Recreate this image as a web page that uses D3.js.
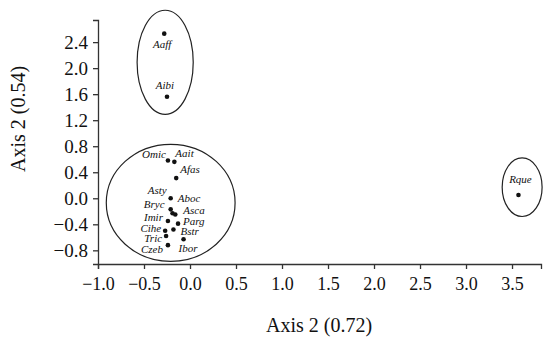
<!DOCTYPE html>
<html>
<head>
<meta charset="utf-8">
<script src="https://cdn.jsdelivr.net/npm/d3@7"></script>
<style>
  body { margin: 0; background: #fff; }
  .axis path, .axis line { stroke: #333; stroke-width: 1.3; }
</style>
</head>
<body>
<div class="chart"></div>
<script>
// species codes and their ordination scores
let species = ["Aaff","Aibi","Omic","Aait","Afas","Asty","Aboc","Bryc","Asca","Imir","Parg","Cihe","Bstr","Tric","Ibor","Czeb","Rque"];
let axis1 = [-0.28,-0.25,-0.24,-0.17,-0.15,-0.21,-0.21,-0.19,-0.16,-0.24,-0.13,-0.27,-0.18,-0.26,-0.07,-0.24,3.57];
let axis2 = [2.53,1.56,0.58,0.56,0.31,0.00,-0.17,-0.23,-0.25,-0.35,-0.39,-0.50,-0.48,-0.58,-0.63,-0.72,0.05];

// group outlines (centre and radii in axis units)
let groupCx = [-0.27, -0.21, 3.61];
let groupCy = [2.09, -0.07, 0.17];
let groupRx = [0.305, 0.70, 0.217];
let groupRy = [0.80, 0.90, 0.45];

let xTicks = [-1.0,-0.5,0.0,0.5,1.0,1.5,2.0,2.5,3.0,3.5];
let yTicks = [-0.8,-0.4,0.0,0.4,0.8,1.2,1.6,2.0,2.4];

// label placement relative to each dot (layout only)
let labelPos = {
  Aaff:[-2,14,"middle"], Aibi:[-2,-8,"middle"], Omic:[-2,-3,"end"], Aait:[1,-5,"start"],
  Afas:[4,-5,"start"], Asty:[-4,-4,"end"], Aboc:[7,-7,"start"], Bryc:[-8,-5,"end"],
  Asca:[8,-1,"start"], Imir:[-5,0,"end"], Parg:[5,1,"start"], Cihe:[-4,1,"end"],
  Bstr:[7,5,"start"], Tric:[-4,6,"end"], Ibor:[-5,13,"start"], Czeb:[-5,8,"end"],
  Rque:[2,-12,"middle"]
};

let serif = '"Liberation Serif", "Times New Roman", Times, serif';

let outerWidth = 546, outerHeight = 338;
let margin = {top:20, right:5, bottom:74, left:98};
let width = outerWidth - margin.left - margin.right, height = outerHeight - margin.top - margin.bottom;

let svg = d3.select('.chart').append('svg')
    .attr('width', outerWidth)
    .attr('height', outerHeight)
    .append("g")
    .attr("transform", "translate(" + margin.left + "," + margin.top + ")");

const xScale = d3.scaleLinear().domain([-1, 3.815]).range([0, width]);
const yScale = d3.scaleLinear().domain([-1.01, 2.74]).range([height, 0]);

let data = species.map((s, i) => ({name: s, x: axis1[i], y: axis2[i]}));
let groups = groupCx.map((c, i) => ({cx: c, cy: groupCy[i], rx: groupRx[i], ry: groupRy[i]}));

svg.selectAll('ellipse')
  .data(groups)
  .enter()
  .append('ellipse')
  .attr('cx', d => xScale(d.cx))
  .attr('cy', d => yScale(d.cy))
  .attr('rx', d => xScale(d.rx) - xScale(0))
  .attr('ry', d => yScale(0) - yScale(d.ry))
  .attr('fill', 'none')
  .attr('stroke', '#222')
  .attr('stroke-width', 1.2);

svg.selectAll('circle')
  .data(data)
  .enter()
  .append('circle')
  .attr('cx', d => xScale(d.x))
  .attr('cy', d => yScale(d.y))
  .attr('r', 2.3)
  .attr('fill', '#111');

svg.selectAll('.lbl')
  .data(data)
  .enter()
  .append('text')
  .attr('class', 'lbl')
  .attr('x', d => xScale(d.x) + labelPos[d.name][0])
  .attr('y', d => yScale(d.y) + labelPos[d.name][1])
  .attr('text-anchor', d => labelPos[d.name][2])
  .style('font-family', serif)
  .style('font-style', 'italic')
  .style('font-size', '11px')
  .style('fill', '#111')
  .text(d => d.name);

let xAxis = d3.axisBottom(xScale).tickValues(xTicks).tickFormat(d3.format(".1f")).tickSizeOuter(0).tickSize(5).tickPadding(8);
let yAxis = d3.axisLeft(yScale).tickValues(yTicks).tickFormat(d3.format(".1f")).tickSizeOuter(0).tickSize(5).tickPadding(5);

svg.append("g")
  .attr("class", "axis x-axis")
  .attr("transform", `translate(0, ${height})`)
  .call(xAxis)
  .selectAll("text")
  .style("font-family", serif)
  .style("font-size", "18px")
  .style("fill", "#111");

svg.append("g")
  .attr("class", "axis y-axis")
  .call(yAxis)
  .selectAll("text")
  .style("font-family", serif)
  .style("font-size", "19px")
  .style("fill", "#111");

svg.append("text")
  .attr("x", 221)
  .attr("y", height + 68)
  .attr("text-anchor", "middle")
  .style("font-family", serif)
  .style("font-size", "20px")
  .style("fill", "#111")
  .text("Axis 2 (0.72)");

svg.append("text")
  .attr("transform", `translate(${-73}, ${99}) rotate(-90)`)
  .attr("text-anchor", "middle")
  .style("font-family", serif)
  .style("font-size", "20px")
  .style("fill", "#111")
  .text("Axis 2 (0.54)");
</script>
</body>
</html>
